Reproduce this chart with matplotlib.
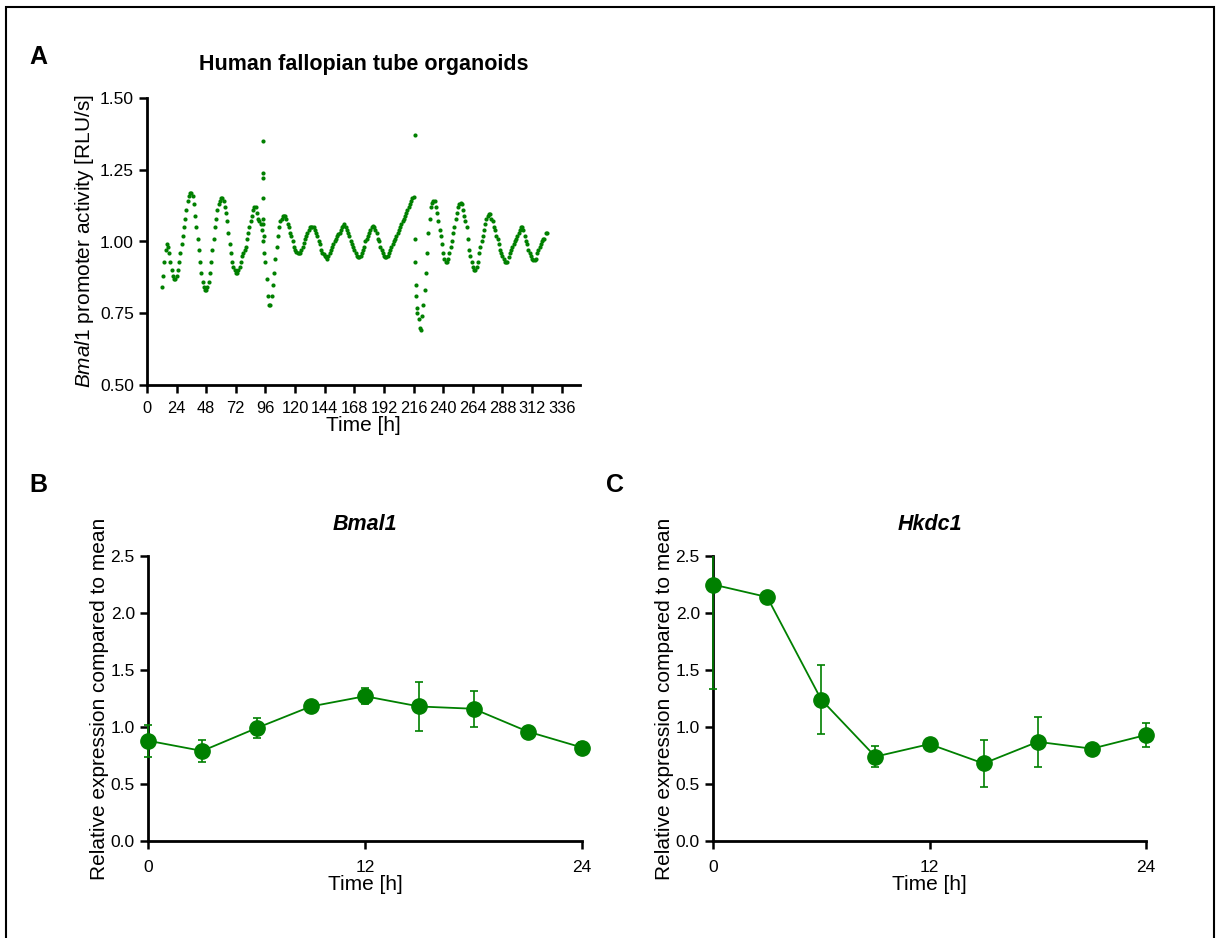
import numpy as np
import matplotlib
matplotlib.use("Agg")
import matplotlib.pyplot as plt
from matplotlib.patches import Rectangle
from matplotlib.transforms import Bbox, TransformedBbox

plt.rcParams["font.family"] = ["Liberation Sans", "DejaVu Sans"]
plt.rcParams["mathtext.fontset"] = "custom"
plt.rcParams["mathtext.rm"] = "Liberation Sans"
plt.rcParams["mathtext.it"] = "Liberation Sans:italic"
plt.rcParams["mathtext.bf"] = "Liberation Sans:bold"

GREEN = "#008000"

# ------------------------------------------------------------------ #
# Panel A: Bmal1 promoter luminescence, one reading per hour from 12 h
# ------------------------------------------------------------------ #
lumi_start_h = 12
lumi_values = [
    0.84, 0.88, 0.93, 0.97, 0.99, 0.98, 0.96, 0.93, 0.90, 0.88, 0.87, 0.87,        # 12-23
    0.88, 0.90, 0.93, 0.96, 0.99, 1.02, 1.05, 1.08, 1.11, 1.14, 1.16, 1.17,        # 24-35
    1.17, 1.16, 1.13, 1.09, 1.05, 1.01, 0.97, 0.93, 0.89, 0.86, 0.84, 0.83,        # 36-47
    0.83, 0.84, 0.86, 0.89, 0.93, 0.97, 1.01, 1.05, 1.08, 1.11, 1.13, 1.14,        # 48-59
    1.15, 1.15, 1.14, 1.12, 1.10, 1.07, 1.03, 0.99, 0.96, 0.93, 0.91, 0.90,        # 60-71
    0.89, 0.89, 0.90, 0.91, 0.93, 0.95, 0.96, 0.97, 0.98, 1.01, 1.03, 1.05,        # 72-83
    1.07, 1.09, 1.11, 1.12, 1.12, 1.10, 1.08, 1.07, 1.06, 1.04, 1.00, 0.96,        # 84-95
    0.93, 0.87, 0.81, 0.78, 0.78, 0.81, 0.85, 0.89, 0.94, 0.98, 1.02, 1.05,        # 96-107
    1.07, 1.08, 1.09, 1.09, 1.09, 1.08, 1.06, 1.05, 1.03, 1.02, 1.00, 0.98,        # 108-119
    0.97, 0.965, 0.96, 0.96, 0.96, 0.97, 0.98, 0.995, 1.01, 1.02, 1.03, 1.04,      # 120-131
    1.05, 1.05, 1.05, 1.05, 1.04, 1.03, 1.02, 1.00, 0.99, 0.97, 0.96, 0.955,       # 132-143
    0.95, 0.945, 0.94, 0.95, 0.96, 0.97, 0.98, 0.99, 1.00, 1.01, 1.02, 1.025,      # 144-155
    1.03, 1.04, 1.05, 1.055, 1.06, 1.05, 1.04, 1.03, 1.02, 1.00, 0.99, 0.98,       # 156-167
    0.97, 0.96, 0.95, 0.945, 0.945, 0.95, 0.96, 0.97, 0.98, 1.00, 1.01, 1.02,      # 168-179
    1.03, 1.04, 1.05, 1.055, 1.05, 1.04, 1.03, 1.01, 1.00, 0.98, 0.97, 0.96,       # 180-191
    0.95, 0.945, 0.945, 0.95, 0.96, 0.97, 0.98, 0.99, 1.00, 1.01, 1.02, 1.03,      # 192-203
    1.04, 1.05, 1.06, 1.07, 1.08, 1.09, 1.10, 1.11, 1.12, 1.13, 1.14, 1.15,        # 204-215
    1.155, 1.01, 0.85, 0.77, 0.73, 0.70, 0.69, 0.74, 0.78, 0.83, 0.89, 0.96,       # 216-227
    1.03, 1.08, 1.12, 1.135, 1.14, 1.14, 1.12, 1.10, 1.07, 1.04, 1.02, 0.99,       # 228-239
    0.96, 0.94, 0.93, 0.93, 0.94, 0.96, 0.98, 1.00, 1.03, 1.05, 1.08, 1.10,        # 240-251
    1.12, 1.13, 1.135, 1.13, 1.11, 1.09, 1.07, 1.05, 1.01, 0.97, 0.95, 0.93,       # 252-263
    0.91, 0.90, 0.90, 0.91, 0.93, 0.96, 0.98, 1.00, 1.02, 1.04, 1.06, 1.08,        # 264-275
    1.09, 1.095, 1.095, 1.08, 1.07, 1.05, 1.04, 1.02, 1.01, 0.99, 0.97, 0.96,      # 276-287
    0.95, 0.94, 0.93, 0.93, 0.93, 0.945, 0.96, 0.97, 0.98, 0.99, 1.00, 1.01,       # 288-299
    1.02, 1.03, 1.04, 1.05, 1.05, 1.04, 1.02, 1.00, 0.99, 0.97, 0.96, 0.95,        # 300-311
    0.94, 0.935, 0.935, 0.94, 0.96, 0.97, 0.98, 0.99, 1.00, 1.01, 1.01, 1.03,      # 312-323
    1.03,                                                                          # 324
]
# extra readings around the two medium changes (vertical runs of points)
spike_hours = [94, 94, 94, 94, 94, 94, 95, 217, 217, 218, 219]
spike_values = [1.35, 1.24, 1.22, 1.15, 1.08, 1.06, 1.02, 1.37, 0.93, 0.81, 0.75]

# ------------------------------------------------------------------ #
# Panels B, C: qPCR time course (mean +/- error)
# ------------------------------------------------------------------ #
qpcr_hours = [0, 3, 6, 9, 12, 15, 18, 21, 24]
bmal1_mean = [0.88, 0.79, 0.99, 1.18, 1.27, 1.18, 1.16, 0.96, 0.82]
bmal1_err = [0.14, 0.10, 0.09, 0.03, 0.07, 0.215, 0.16, 0.02, 0.05]
hkdc1_mean = [2.25, 2.14, 1.24, 0.74, 0.85, 0.68, 0.87, 0.81, 0.93]
hkdc1_err = [0.92, 0.02, 0.30, 0.09, 0.02, 0.21, 0.22, 0.02, 0.105]

W, H = 1217, 938
fig = plt.figure(figsize=(W / 100, H / 100), dpi=100)


def px_axes(left, top, right, bottom):
    return fig.add_axes([left / W, 1 - bottom / H, (right - left) / W, (bottom - top) / H])


def style_axes(ax):
    for side in ("top", "right"):
        ax.spines[side].set_visible(False)
    for side in ("left", "bottom"):
        ax.spines[side].set_linewidth(2.0)
    ax.tick_params(direction="out", length=5.5, width=1.8, labelsize=12.5, pad=4)


# frame around the whole figure
fig.patches.append(Rectangle((6 / W, -0.02), (1214 - 6) / W, 1.02 - 7 / H,
                             transform=fig.transFigure, fill=False,
                             edgecolor="black", linewidth=1.5))

# ---- panel A ----
axA = px_axes(147, 98, 580, 385)
style_axes(axA)
axA.tick_params(axis="x", labelsize=11.8, pad=6)
lumi_hours = lumi_start_h + np.arange(len(lumi_values))
axA.scatter(lumi_hours, lumi_values, s=9, color=GREEN, linewidths=0)
axA.scatter(spike_hours, spike_values, s=9, color=GREEN, linewidths=0)
axA.set_xlim(0, 350.8)
axA.set_ylim(0.5, 1.5)
axA.set_xticks(np.arange(0, 337, 24))
axA.set_yticks([0.5, 0.75, 1.0, 1.25, 1.5])
axA.yaxis.set_major_formatter(matplotlib.ticker.FormatStrFormatter("%.2f"))
axA.set_xlabel("Time [h]", fontsize=15, labelpad=0)
axA.set_ylabel(r"$\mathit{Bmal1}$ promoter activity [RLU/s]", fontsize=15, labelpad=3)
axA.set_title("Human fallopian tube organoids", fontsize=15.5, fontweight="bold", pad=20)


def qpcr_panel(ax, mean, err, title):
    style_axes(ax)
    ax.set_xlim(0, 24)
    ax.set_ylim(0, 2.5)
    ax.set_xticks([0, 12, 24])
    ax.set_yticks(np.arange(0, 2.51, 0.5))
    ax.yaxis.set_major_formatter(matplotlib.ticker.FormatStrFormatter("%.1f"))
    ax.tick_params(axis="x", pad=8)
    bars = ax.errorbar(qpcr_hours, mean, yerr=err, fmt="none", ecolor=GREEN,
                       elinewidth=1.2, capsize=3, capthick=1.2, zorder=3)
    # clip the bars vertically at the axes but let them sit on the y axis
    clip = TransformedBbox(Bbox([[-0.05, 0.0], [1.05, 1.0]]), ax.transAxes)
    for art in bars.lines[1] + bars.lines[2]:
        art.set_clip_box(clip)
    ax.plot(qpcr_hours, mean, "-o", color=GREEN, lw=1.3, ms=11, clip_on=False, zorder=4)
    ax.set_xlabel("Time [h]", fontsize=15, labelpad=0)
    ax.set_ylabel("Relative expression compared to mean", fontsize=15, labelpad=1)
    ax.set_title(title, fontsize=15.5, fontweight="bold", fontstyle="italic", pad=19)


axB = px_axes(148, 556, 582, 841)
qpcr_panel(axB, bmal1_mean, bmal1_err, "Bmal1")

axC = px_axes(713, 556, 1146, 841)
qpcr_panel(axC, hkdc1_mean, hkdc1_err, "Hkdc1")

for letter, x, y in [("A", 38, 57), ("B", 38, 485), ("C", 615, 485)]:
    fig.text(x / W, 1 - y / H, letter, fontsize=18, fontweight="bold",
             ha="center", va="center")

fig.savefig("out.png", dpi=100)
